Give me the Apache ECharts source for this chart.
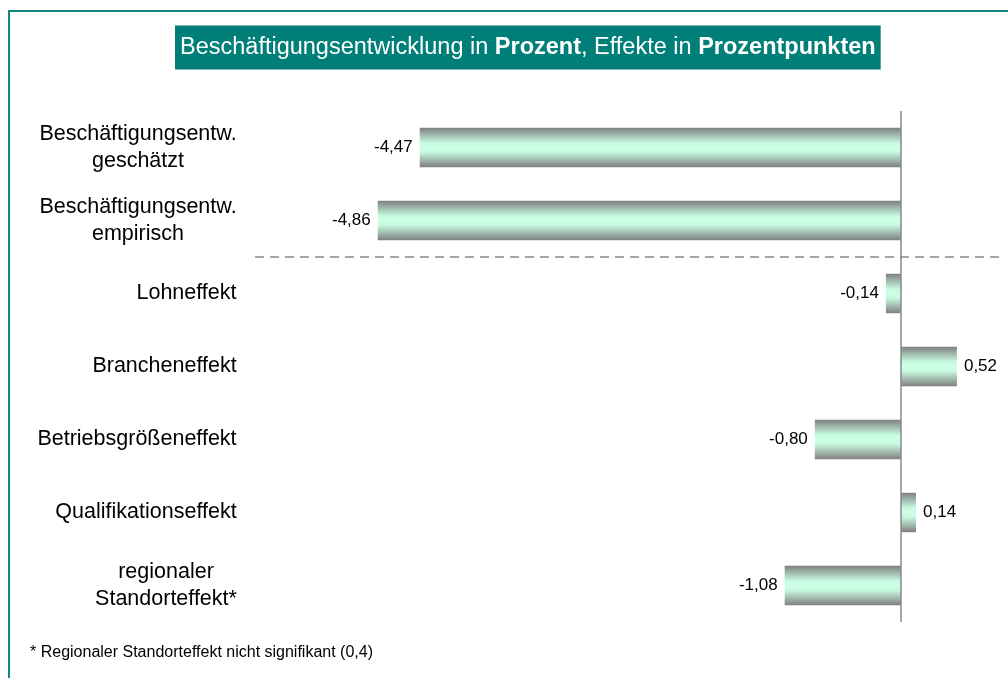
<!DOCTYPE html>
<html>
<head>
<meta charset="utf-8">
<script src="https://cdn.jsdelivr.net/npm/echarts@6/dist/echarts.min.js"></script>
<style>
  html, body { margin: 0; padding: 0; background: #fff; }
  #chart { width: 1008px; height: 678px; }
</style>
</head>
<body>
<div id="chart"></div>
<script>
// Daten
var categories = [
    'Beschäftigungsentw.\ngeschätzt',
    'Beschäftigungsentw.\nempirisch',
    'Lohneffekt',
    'Brancheneffekt',
    'Betriebsgrößeneffekt',
    'Qualifikationseffekt',
    'regionaler\nStandorteffekt*'
];
var values = [-4.47, -4.86, -0.14, 0.52, -0.80, 0.14, -1.08];
var footnote = '* Regionaler Standorteffekt nicht signifikant (0,4)';

var FONT = '"Liberation Sans", Arial, sans-serif';
var catFontSize = 21.5;

var myChart = echarts.init(document.getElementById('chart'));

// Breite der längsten Zeile messen, damit mehrzeilige Labels zentriert bleiben
var ctx = document.createElement('canvas').getContext('2d');
ctx.font = catFontSize + 'px ' + FONT;
var rich = {};
categories.forEach(function (c, i) {
    var w = Math.max.apply(null, c.split('\n').map(function (l) { return ctx.measureText(l).width; }));
    rich['c' + i] = { width: Math.ceil(w), align: 'center', fontSize: catFontSize, lineHeight: 27, fontFamily: FONT, color: '#000' };
});

var barGradient = new echarts.graphic.LinearGradient(0, 0, 0, 1, [
    { offset: 0, color: '#7f7f7f' },
    { offset: 0.38, color: '#c6f9df' },
    { offset: 0.5, color: '#ccffe6' },
    { offset: 0.62, color: '#c6f9df' },
    { offset: 1, color: '#7f7f7f' }
]);

var option = {
    animation: false,
    title: {
        text: '{n|Beschäftigungsentwicklung in }{b|Prozent}{n|, Effekte in }{b|Prozentpunkten}',
        left: 175,
        top: 25,
        padding: [10, 5, 10, 5],
        backgroundColor: '#007f79',
        textStyle: {
            fontWeight: 'normal',
            rich: {
                n: { fontSize: 23.5, lineHeight: 25, color: '#fff', fontWeight: 'normal', fontFamily: FONT },
                b: { fontSize: 23.5, lineHeight: 25, color: '#fff', fontWeight: 'bold', fontFamily: FONT }
            }
        }
    },
    grid: { left: 255, right: 8, top: 111, bottom: 56 },
    xAxis: {
        type: 'value',
        min: -6,
        max: 0.92,
        show: false
    },
    yAxis: {
        type: 'category',
        inverse: true,
        data: categories,
        axisLine: { show: false, onZero: false },
        axisTick: { show: false },
        splitLine: { show: false },
        axisLabel: {
            margin: 18,
            align: 'right',
            formatter: function (value, index) {
                return value.split('\n').map(function (l) { return '{c' + index + '|' + l + '}'; }).join('\n');
            },
            rich: rich
        }
    },
    series: [{
        type: 'bar',
        barCategoryGap: '46%',
        data: values.map(function (v) {
            return { value: v, label: { position: v < 0 ? 'left' : 'right' } };
        }),
        itemStyle: { color: barGradient },
        label: {
            show: true,
            distance: 7,
            fontSize: 17,
            fontFamily: FONT,
            color: '#000',
            formatter: function (p) { return p.value.toFixed(2).replace('.', ','); }
        },
        markLine: {
            silent: true,
            symbol: 'none',
            label: { show: false },
            lineStyle: { color: '#888', width: 1.5, type: 'solid' },
            data: [{ xAxis: 0 }]
        }
    }]
};

myChart.setOption(option);

// gestrichelte Trennlinie zwischen den Beschäftigungszeilen und den Effekten
var y1 = myChart.convertToPixel({ yAxisIndex: 0 }, categories[1]);
var y2 = myChart.convertToPixel({ yAxisIndex: 0 }, categories[2]);
var xL = myChart.convertToPixel({ xAxisIndex: 0 }, -6);
var xR = myChart.convertToPixel({ xAxisIndex: 0 }, 0.92);
var ySep = (y1 + y2) / 2;

myChart.setOption({
    graphic: [
        {
            type: 'rect',
            shape: { x: 9, y: 11, width: 1100, height: 800 },
            style: { fill: 'none', stroke: '#16877f', lineWidth: 2 },
            silent: true
        },
        {
            type: 'line',
            shape: { x1: xL, y1: ySep, x2: xR, y2: ySep },
            style: { stroke: '#888', lineWidth: 1.5, lineDash: [9, 6] },
            silent: true
        },
        {
            type: 'text',
            left: 30,
            top: 645,
            style: { text: footnote, fontSize: 16, fontFamily: FONT, fill: '#000' }
        }
    ]
});
</script>
</body>
</html>
